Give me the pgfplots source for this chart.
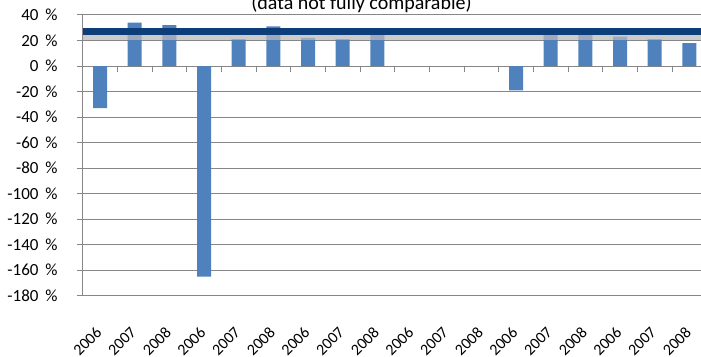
\documentclass[border=0pt]{standalone}
\usepackage{pgfplots}
\pgfplotsset{compat=1.18}
\usepackage{fontspec}
\setmainfont{Carlito}

\definecolor{barblue}{RGB}{79,129,189}
\definecolor{navyline}{RGB}{14,62,122}
\definecolor{gridgray}{RGB}{134,134,134}

\begin{document}
\begin{tikzpicture}
\node[anchor=base, font=\fontsize{20bp}{24bp}\selectfont] at (361.5bp,347bp) {(data not fully comparable)};
\begin{axis}[
  at={(82.7bp,61.3bp)}, anchor=south west,
  scale only axis, width=624bp, height=280.7bp,
  xmin=-0.5, xmax=17.5, ymin=-180, ymax=40,
  axis x line*=bottom, axis y line*=left,
  axis line style={-, draw=gridgray, line width=1bp},
  ymajorgrids, grid style={draw=gridgray, line width=1bp},
  ytick={-180,-160,...,40},
  yticklabels={-180\hspace{0.4em}\%,-160\hspace{0.4em}\%,-140\hspace{0.4em}\%,-120\hspace{0.4em}\%,-100\hspace{0.4em}\%,-80\hspace{0.4em}\%,-60\hspace{0.4em}\%,-40\hspace{0.4em}\%,-20\hspace{0.4em}\%,0\hspace{0.4em}\%,20\hspace{0.4em}\%,40\hspace{0.4em}\%},
  tick align=outside, major tick length=6bp,
  ytick style={draw=gridgray, line width=1bp},
  xtick style={draw=none},
  yticklabel style={font=\fontsize{17bp}{20bp}\selectfont, anchor=east, inner sep=0pt, xshift=-19bp},
  xtick={0,...,17},
  xticklabels={2006,2007,2008,2006,2007,2008,2006,2007,2008,2006,2007,2008,2006,2007,2008,2006,2007,2008},
  xticklabel style={font=\fontsize{16bp}{19bp}\selectfont, yshift=-28bp, xshift=-1bp, rotate=45, anchor=east, inner sep=0pt},
  ybar, bar width=14bp,
]
% tick marks on the zero line between categories
\pgfplotsinvokeforeach{0.5,1.5,...,16.5}{
  \draw[gridgray, line width=1bp] (axis cs:#1,0) -- ++(0pt,-5.5bp);
}
\addplot[fill=barblue, draw=none] coordinates {
  (0,-33) (1,34) (2,32)
  (3,-165) (4,21) (5,31)
  (6,22) (7,21) (8,26)
  (12,-19) (13,26) (14,26)
  (15,23) (16,21) (17,18)
};
% reference level with its shadow
\addplot[sharp plot, no marks, draw=gray!55, opacity=0.75, line width=5bp] coordinates {(-0.5,22.2) (17.5,22.2)};
\addplot[sharp plot, no marks, draw=navyline, line width=7.7bp] coordinates {(-0.5,27.1) (17.5,27.1)};
\end{axis}
\pgfresetboundingbox
\path[use as bounding box] (0bp,0bp) rectangle (701bp,357bp);
\end{tikzpicture}
\end{document}
